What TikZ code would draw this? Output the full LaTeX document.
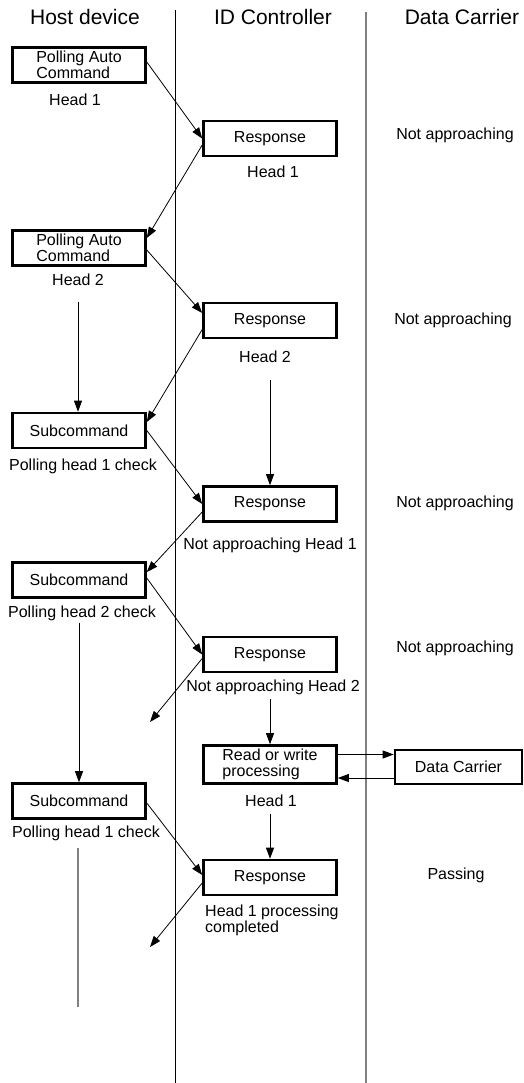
\documentclass[tikz,border=0pt]{standalone}
\usepackage{fontspec}
\setmainfont{Liberation Sans}
\usetikzlibrary{arrows.meta}

\begin{document}
\begin{tikzpicture}[x=1pt, y=-1pt, font=\fontsize{16}{16}\selectfont,
  box/.style={draw, line width=2.6pt, minimum width=133pt, minimum height=35pt, inner sep=2pt},
  lbl/.style={inner sep=1pt},
  ttl/.style={font=\fontsize{21}{24}\selectfont},
  arr/.style={-{Triangle[length=11pt,width=8pt]}, line width=0.8pt}]
  \useasboundingbox (0,0) rectangle (523,1083);
  % Column titles and separators
  \node[ttl] (thost) at (85,17) {Host device};
  \node[ttl] (tidc) at (273,17) {ID Controller};
  \node[ttl] (tdc) at (462,17) {Data Carrier};
  \coordinate (s1t) at (175,10);
  \coordinate (s1b) at (175,1083);
  \coordinate (s2t) at (366,12);
  \coordinate (s2b) at (366,1083);
  \draw[line width=0.9pt] (s1t) -- (s1b);
  \draw[line width=1.4pt, gray] (s2t) -- (s2b);
  % Head 1 polling
  \node[box, align=left] (hpa1) at (79,65) {Polling Auto\\Command};
  \node[lbl] (hpa1h) at (75,100) {Head 1};
  \node[box] (idr1) at (270,138.5) {Response};
  \node[lbl] (idr1h) at (273,172) {Head 1};
  \node[lbl] (na1) at (455,135) {Not approaching};
  % Head 2 polling
  \node[box, align=left] (hpa2) at (79,248) {Polling Auto\\Command};
  \node[lbl] (hpa2h) at (78,280) {Head 2};
  \node[box] (idr2) at (270,320.5) {Response};
  \node[lbl] (idr2h) at (265,357) {Head 2};
  \node[lbl] (na2) at (453,320) {Not approaching};
  % Head 1 check
  \node[box] (hsc1) at (79,430.5) {Subcommand};
  \node[lbl] (ph1) at (83,466) {Polling head 1 check};
  \node[box] (idr3) at (270,504) {Response};
  \node[lbl] (nah1) at (270,545) {Not approaching Head 1};
  \node[lbl] (na3) at (455,503) {Not approaching};
  % Head 2 check
  \node[box] (hsc2) at (79,580) {Subcommand};
  \node[lbl] (ph2) at (82,613) {Polling head 2 check};
  \node[box] (idr4) at (270,654.5) {Response};
  \node[lbl] (nah2) at (273,687) {Not approaching Head 2};
  \node[lbl] (na4) at (455,648) {Not approaching};
  % Read/write on head 1
  \node[box, align=left, minimum height=38pt] (idrw) at (270,764.5) {Read or write\\processing};
  \node[lbl] (idrwh) at (271,801) {Head 1};
  \node[box, minimum width=127pt, minimum height=34pt] (dc) at (458.5,767) {Data Carrier};
  % Head 1 check again
  \node[box] (hsc3) at (79,801) {Subcommand};
  \node[lbl] (ph3) at (86,833) {Polling head 1 check};
  \node[box] (idr5) at (270,877.5) {Response};
  \node[lbl, align=left, anchor=west] (hpc) at (204,920) {Head 1 processing\\completed};
  \node[lbl] (pas) at (456,875) {Passing};
  % Free ends
  \coordinate (e1) at (150,722);
  \coordinate (e2) at (150,947);
  \coordinate (e3) at (78,1007);
  % Messages
  \draw[arr] ([yshift=3pt]hpa1.east) -- (idr1.west);
  \draw[arr] ([yshift=-6.5pt]idr1.west) -- ([yshift=10pt]hpa2.east);
  \draw[arr] ([yshift=-2pt]hpa2.east) -- ([yshift=7.5pt]idr2.west);
  \draw[arr] ([yshift=-9pt]idr2.west) -- ([yshift=8.5pt]hsc1.east);
  \draw[arr] (hsc1.east) -- (idr3.west);
  \draw[arr] ([yshift=-8pt]idr3.west) -- ([yshift=8pt]hsc2.east);
  \draw[arr] ([yshift=2pt]hsc2.east) -- (idr4.west);
  \draw[arr] ([yshift=-4pt]idr4.west) -- (e1);
  \draw[arr] ([yshift=10pt]idrw.east) -- ([yshift=10pt]idrw.east -| dc.west);
  \draw[arr] ([yshift=-11pt]dc.west) -- ([yshift=-11pt]dc.west -| idrw.east);
  \draw[arr] ([yshift=-2pt]hsc3.east) -- ([yshift=2.5pt]idr5.west);
  \draw[arr] ([yshift=-5.5pt]idr5.west) -- (e2);
  % Waiting lines
  \draw[arr] (hsc1.north -| hpa2h) ++(0,-110) -- (hsc1.north -| hpa2h);
  \draw[arr] (idr3.north) ++(0,-105) -- (idr3.north);
  \draw[arr] (ph2.south -| hsc3.north) ++(0,1) -- (hsc3.north);
  \draw[arr] (idrw.north) ++(0,-45) -- (idrw.north);
  \draw[arr] (idr5.north) ++(0,-45) -- (idr5.north);
  \draw[line width=1.1pt, gray] (ph3.south -| e3) ++(0,6) -- (e3);
\end{tikzpicture}
\end{document}
